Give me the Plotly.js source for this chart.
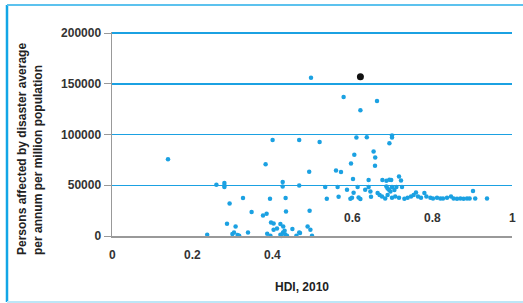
<!DOCTYPE html>
<html>
<head>
<meta charset="utf-8">
<script src="https://cdn.plot.ly/plotly-3.0.1.min.js"></script>
<style>
html,body{margin:0;padding:0;background:#fff;}
#chart{width:523px;height:303px;}
</style>
</head>
<body>
<div id="chart"></div>
<script>
// HDI 2010 values (x) and persons affected per million (y)
const hdi = [
  0.14, 0.4975, 0.579, 0.621, 0.6625,
  0.4015, 0.468, 0.519, 0.611, 0.637, 0.70, 0.70, 0.6935,
  0.654, 0.658, 0.6058, 0.6575, 0.5975, 0.384,
  0.493, 0.56, 0.5725, 0.6025, 0.6415, 0.676, 0.686, 0.6935, 0.698, 0.7175, 0.7225,
  0.261, 0.281, 0.281, 0.281, 0.4267, 0.4267, 0.468,
  0.533, 0.564, 0.5875, 0.604, 0.600, 0.614, 0.633, 0.6415, 0.646,
  0.537, 0.5665, 0.596, 0.6165, 0.621, 0.6475, 0.664, 0.669,
  0.686, 0.689, 0.6925, 0.70, 0.696, 0.706, 0.711, 0.725,
  0.675, 0.683, 0.689, 0.700, 0.708, 0.7175, 0.731, 0.739, 0.7475, 0.754, 0.760, 0.765,
  0.7725, 0.781, 0.786, 0.796, 0.8025, 0.8125, 0.821, 0.8275, 0.8375, 0.8475, 0.854,
  0.8625, 0.871, 0.879, 0.8875, 0.894, 0.9025, 0.908, 0.9375,
  0.294, 0.3275, 0.395, 0.434, 0.349, 0.3775, 0.3865, 0.435, 0.494,
  0.2875, 0.309, 0.34, 0.238, 0.301, 0.305, 0.314, 0.318,
  0.3975, 0.404, 0.421, 0.428, 0.4125, 0.404, 0.451,
  0.388, 0.396, 0.421, 0.4275, 0.4315, 0.433, 0.4375, 0.423, 0.461, 0.468,
  0.489, 0.496, 0.5, 0.47
];
const affected = [
  75700, 156000, 137000, 124000, 133000,
  94700, 94700, 92500, 97000, 97400, 99000, 97000, 91500,
  83200, 77300, 80000, 69200, 71400, 70800,
  63300, 64500, 63000, 56100, 55100, 55100, 54400, 55400, 55100, 58600, 54700,
  50500, 52100, 49800, 48200, 53100, 48800, 49800,
  48200, 48200, 45500, 42600, 37700, 48200, 45500, 48200, 43900,
  36700, 38700, 36700, 38000, 36400, 38700, 42300, 40300,
  48800, 46800, 45500, 48200, 43900, 45300, 48200, 48200,
  39000, 37000, 40300, 37700, 39000, 37700, 36700, 37700, 39000, 40300, 42900, 39000,
  37700, 42300, 39000, 37700, 37000, 37700, 37000, 37000, 37700, 39000, 37000,
  36700, 37000, 36700, 37000, 37000, 44300, 37000, 37000,
  32100, 37400, 36700, 37400, 23600, 20300, 21900, 24200, 24900,
  12100, 9400, 3500, 1300, 2000, 3500, 1000, 300,
  13400, 12400, 11800, 9400, 7500, 6200, 6900,
  2300, 300, 1300, 3500, 5200, 1600, 300, 0, 300, 3500,
  9400, 6200, 300, 3000
];
// Highlighted country
const hiX = [0.621];
const hiY = [157000];

const xTickVals = [0, 0.2, 0.4, 0.6, 0.8, 1];
const xTickText = ['0', '0.2', '0.4', '0.6', '0.8', '1'];
const yTickVals = [0, 50000, 100000, 150000, 200000];

const FONT = 'Liberation Sans, Arial, sans-serif';
const BLUE = '#1ba1e2';
const L = 112, W = 400, B = 236, H = 204;
const px = p => (p - L) / W;   // pixel x -> paper x
const py = q => (B - q) / H;   // pixel y -> paper y

const traces = [
  {x: hdi, y: affected, type: 'scatter', mode: 'markers',
   marker: {color: BLUE, size: 4.5}, hoverinfo: 'skip', cliponaxis: false},
  {x: hiX, y: hiY, type: 'scatter', mode: 'markers',
   marker: {color: '#111', size: 7}, hoverinfo: 'skip'}
];

const annotations = xTickVals.map((v, i) => ({
  x: v, xref: 'x', y: v < 0.5 ? py(255) : py(218), yref: 'paper',
  text: xTickText[i], showarrow: false, xanchor: 'center', yanchor: 'middle',
  font: {family: FONT, size: 12, color: '#333', weight: 'bold'}
}));
annotations.push({
  x: px(302), y: py(287), xref: 'paper', yref: 'paper', text: 'HDI, 2010', showarrow: false,
  xanchor: 'center', yanchor: 'middle',
  font: {family: FONT, size: 12, color: '#222', weight: 'bold'}
});
annotations.push({
  x: px(30), xref: 'paper', y: py(257), yref: 'paper',
  text: 'Persons affected by disaster average<br>per annum per million population',
  textangle: -90, showarrow: false, xanchor: 'center', yanchor: 'bottom', align: 'left',
  font: {family: FONT, size: 12, color: '#222', weight: 'bold'}
});

const layout = {
  width: 523, height: 303,
  margin: {l: L, r: 523 - L - W, t: 32, b: 303 - B},
  paper_bgcolor: '#fff', plot_bgcolor: '#fff',
  showlegend: false,
  xaxis: {range: [0, 1], tickvals: xTickVals, showticklabels: false,
          showgrid: false, zeroline: false, showline: true, linecolor: '#999', linewidth: 1.5,
          ticks: ''},
  yaxis: {range: [0, 201000], tickvals: yTickVals, ticktext: yTickVals.map(String),
          showgrid: true, gridcolor: BLUE, gridwidth: 1.5, zeroline: false,
          showline: true, linecolor: '#999', linewidth: 1.5,
          ticks: 'outside', ticklen: 7, tickcolor: '#999',
          tickfont: {family: FONT, size: 12, color: '#333', weight: 'bold'}},
  annotations: annotations,
  shapes: [
    {type: 'line', xref: 'paper', yref: 'paper', x0: px(7), x1: px(7),
     y0: py(5), y1: py(302), line: {color: '#12a6e6', width: 2.5}},
    {type: 'line', xref: 'paper', yref: 'paper', x0: px(7), x1: px(523),
     y0: py(5), y1: py(5), line: {color: '#5cc2ee', width: 2}},
    {type: 'line', xref: 'paper', yref: 'paper', x0: px(7), x1: px(523),
     y0: py(302), y1: py(302), line: {color: '#bde6f7', width: 2}}
  ]
};

Plotly.newPlot('chart', traces, layout, {staticPlot: true, displayModeBar: false});
</script>
</body>
</html>
